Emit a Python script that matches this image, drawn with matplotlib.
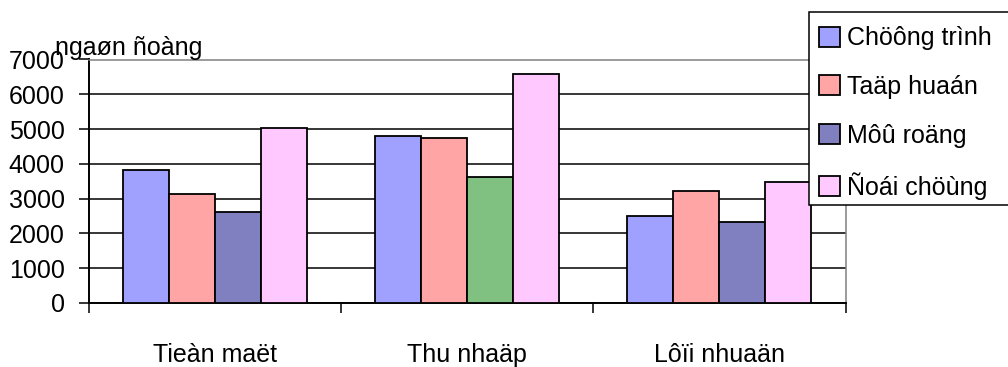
import matplotlib
matplotlib.use("Agg")
import matplotlib.pyplot as plt
import numpy as np

plt.rcParams['font.family'] = ['Liberation Sans', 'DejaVu Sans']

categories = ["Tieàn maët", "Thu nhaäp", "Lôïi nhuaän"]
series_names = ["Chöông trình", "Taäp huaán", "Môû roäng", "Ñoái chöùng"]
chuong_trinh = [3830, 4800, 2500]
tap_huan = [3130, 4750, 3210]
mo_rong = [2620, 3610, 2340]
doi_chung = [5040, 6590, 3490]
y_ticks = [0, 1000, 2000, 3000, 4000, 5000, 6000, 7000]
y_unit = "ngaøn ñoàng"

series = [chuong_trinh, tap_huan, mo_rong, doi_chung]
colors = ["#A0A0FF", "#FFA5A5", "#8080C0", "#FFC8FF"]
# the third bar of the second group is highlighted in green
point_override = {(2, 1): "#80C080"}

FS = 18
W, H = 1008, 367
fig = plt.figure(figsize=(W / 100, H / 100), dpi=100)
ax = fig.add_axes([89 / W, 1 - 303 / H, (845.5 - 89) / W, (303 - 59.5) / H])

x = np.arange(len(categories))
bw = 46 / 252
handles = []
for i, (vals, col) in enumerate(zip(series, colors)):
    fc = [point_override.get((i, j), col) for j in range(len(vals))]
    ax.bar(x + (i - 1.5) * bw, vals, width=bw, color=fc,
           edgecolor="black", linewidth=1.3, zorder=3)
    handles.append(plt.Rectangle((0, 0), 1, 1, facecolor=col,
                                 edgecolor="black", linewidth=1.3))

ax.set_xlim(-0.5, len(categories) - 0.5)
ax.set_ylim(0, 7000)
ax.set_yticks(y_ticks)
ax.set_yticklabels([str(v) for v in y_ticks], fontsize=FS)
ax.yaxis.grid(True, color="black", linewidth=1.1, zorder=0)
ax.set_axisbelow(True)

ax.set_xticks(x)
ax.set_xticklabels(categories, fontsize=FS)
ax.set_xticks(np.arange(-0.5, len(categories), 1.0), minor=True)
ax.tick_params(axis="x", which="major", length=0, pad=29)
ax.tick_params(axis="x", which="minor", length=7.5, width=1.1, direction="out")
ax.tick_params(axis="y", length=7.5, width=1.1, direction="out", pad=10)

for s in ("left", "bottom"):
    ax.spines[s].set_color("black")
    ax.spines[s].set_linewidth(1.4)
for s in ("top", "right"):
    ax.spines[s].set_color("#808080")
    ax.spines[s].set_linewidth(1.1)

fig.text(55 / W, 1 - 55 / H, y_unit, fontsize=FS, ha="left", va="baseline")

# legend box runs off the right edge of the figure
fig.patches.append(plt.Rectangle((809 / W, 1 - 205 / H), 210 / W, (205 - 12) / H,
                                 transform=fig.transFigure, facecolor="white",
                                 edgecolor="black", linewidth=1.1, zorder=1))
leg = fig.legend(handles, series_names, loc="upper left",
                 bbox_to_anchor=(806 / W, 1 - 14 / H),
                 bbox_transform=fig.transFigure, fontsize=FS,
                 frameon=False, borderpad=0.5, labelspacing=0.98,
                 handlelength=0.85, handleheight=0.85, handletextpad=0.3,
                 borderaxespad=0)
leg.set_zorder(2)

fig.savefig("out.png", dpi=100)
